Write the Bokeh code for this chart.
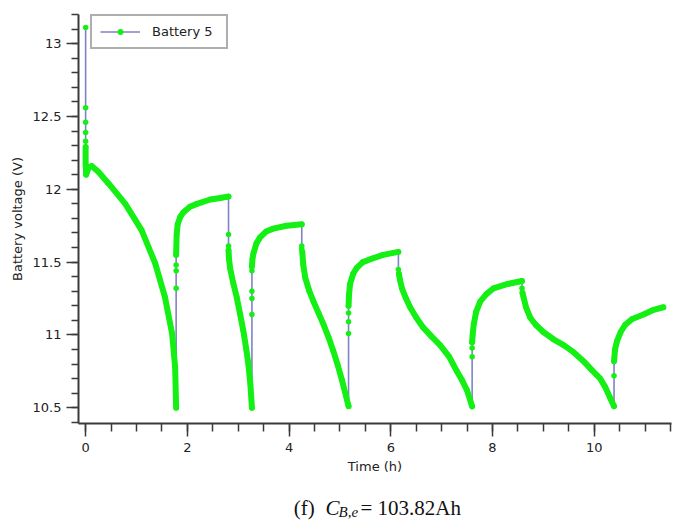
from bokeh.plotting import figure
from bokeh.layouts import column
from bokeh.models import (Range1d, SingleIntervalTicker, CustomJSTickFormatter,
                          Legend, LegendItem)
from bokeh.core.properties import value
from bokeh.embed import file_html
from bokeh.resources import INLINE

# ---------------- data (Battery 5, time in h, voltage in V) ----------------
s_t = [0.0, 0.0, 0.0, 0.0, 0.0]
s_v = [13.11, 12.56, 12.46, 12.39, 12.33]

d1_t = [0.0, 0.0, 0.01, 0.03, 0.06, 0.12, 0.25, 0.45, 0.78, 1.10, 1.37, 1.56, 1.70, 1.76, 1.78]
d1_v = [12.29, 12.18, 12.10, 12.12, 12.15, 12.16, 12.12, 12.04, 11.90, 11.72, 11.49, 11.26, 11.01, 10.78, 10.50]
j1_t = [1.78, 1.78, 1.78]
j1_v = [11.32, 11.44, 11.48]
r1_t = [1.78, 1.79, 1.81, 1.86, 1.92, 2.05, 2.19, 2.45, 2.65, 2.81]
r1_v = [11.55, 11.69, 11.76, 11.81, 11.84, 11.88, 11.90, 11.93, 11.94, 11.95]

j2_t = [2.81, 2.81]
j2_v = [11.69, 11.61]
d2_t = [2.81, 2.82, 2.84, 2.90, 2.97, 3.04, 3.10, 3.16, 3.20, 3.24, 3.27]
d2_v = [11.58, 11.52, 11.46, 11.36, 11.26, 11.14, 11.03, 10.90, 10.80, 10.66, 10.50]
j3_t = [3.27, 3.27, 3.27, 3.27]
j3_v = [11.14, 11.25, 11.30, 11.44]
r2_t = [3.27, 3.28, 3.30, 3.36, 3.43, 3.55, 3.69, 3.95, 4.25]
r2_v = [11.47, 11.52, 11.56, 11.63, 11.67, 11.71, 11.73, 11.75, 11.76]

j4_t = [4.25, 4.25]
j4_v = [11.61, 11.59]
d3_t = [4.26, 4.28, 4.32, 4.40, 4.48, 4.58, 4.68, 4.78, 4.87, 4.96, 5.04, 5.12, 5.17]
d3_v = [11.57, 11.48, 11.39, 11.30, 11.23, 11.15, 11.07, 10.98, 10.89, 10.79, 10.69, 10.58, 10.51]
j5_t = [5.17, 5.17, 5.17]
j5_v = [11.01, 11.09, 11.15]
r3_t = [5.17, 5.18, 5.20, 5.26, 5.33, 5.45, 5.60, 5.85, 6.15]
r3_v = [11.20, 11.28, 11.35, 11.42, 11.46, 11.50, 11.52, 11.55, 11.57]

j6_t = [6.15]
j6_v = [11.45]
d4_t = [6.16, 6.18, 6.22, 6.30, 6.38, 6.50, 6.64, 6.80, 6.97, 7.15, 7.30, 7.40, 7.50, 7.60]
d4_v = [11.42, 11.38, 11.32, 11.25, 11.19, 11.12, 11.05, 10.99, 10.93, 10.85, 10.75, 10.69, 10.62, 10.51]
j7_t = [7.60, 7.60]
j7_v = [10.85, 10.91]
r4_t = [7.60, 7.61, 7.63, 7.68, 7.76, 7.88, 8.02, 8.30, 8.58]
r4_v = [10.95, 11.00, 11.07, 11.16, 11.23, 11.28, 11.32, 11.35, 11.37]

j8_t = [8.58]
j8_v = [11.32]
d5_t = [8.59, 8.61, 8.66, 8.74, 8.85, 9.00, 9.20, 9.40, 9.60, 9.79, 9.95, 10.12, 10.22, 10.31, 10.39]
d5_v = [11.29, 11.26, 11.19, 11.12, 11.07, 11.02, 10.97, 10.93, 10.88, 10.82, 10.76, 10.70, 10.64, 10.57, 10.51]
j9_t = [10.39]
j9_v = [10.72]
r5_t = [10.39, 10.41, 10.45, 10.52, 10.61, 10.75, 10.97, 11.15, 11.36]
r5_v = [10.82, 10.90, 10.96, 11.02, 11.07, 11.11, 11.14, 11.17, 11.19]

series_label = "Battery 5"
x_label = "Time (h)"
y_label = "Battery voltage (V)"
caption_parts = ["(f)", "C", "B,e", "= 103.82Ah"]

# --------------- assemble ---------------
order_t = [s_t, d1_t, j1_t, r1_t, j2_t, d2_t, j3_t, r2_t, j4_t, d3_t, j5_t, r3_t,
           j6_t, d4_t, j7_t, r4_t, j8_t, d5_t, j9_t, r5_t]
order_v = [s_v, d1_v, j1_v, r1_v, j2_v, d2_v, j3_v, r2_v, j4_v, d3_v, j5_v, r3_v,
           j6_v, d4_v, j7_v, r4_v, j8_v, d5_v, j9_v, r5_v]
all_t = [x for seg in order_t for x in seg]
all_v = [y for seg in order_v for y in seg]

curve_t = [d1_t, r1_t, d2_t, r2_t, d3_t, r3_t, d4_t, r4_t, d5_t, r5_t]
curve_v = [d1_v, r1_v, d2_v, r2_v, d3_v, r3_v, d4_v, r4_v, d5_v, r5_v]

LAV = "#7f82c6"
GREEN = "#14f014"
AXC = "#3a3a3a"
W = 680
LEFT = 78
RIGHT = 9

p = figure(width=W, height=478, output_backend="svg", toolbar_location=None,
           title=None, x_range=Range1d(-0.14, 11.52), y_range=Range1d(10.392, 13.2),
           min_border_left=LEFT, min_border_right=RIGHT, min_border_top=14, min_border_bottom=55)
p.outline_line_color = None
p.xgrid.visible = False
p.ygrid.visible = False
p.background_fill_color = "white"
p.border_fill_color = "white"

lav = p.line(all_t, all_v, line_color=LAV, line_width=1.6)
p.multi_line(curve_t, curve_v, line_color=GREEN, line_width=6,
             line_cap="round", line_join="round")
pts = p.scatter(all_t, all_v, marker="circle", size=5.5, fill_color=GREEN, line_color=None)

fmt = CustomJSTickFormatter(code="return Number(tick.toFixed(2)).toString();")

xa = p.xaxis[0]
xa.ticker = SingleIntervalTicker(interval=2, num_minor_ticks=4)
xa.axis_label = x_label
ya = p.yaxis[0]
ya.ticker = SingleIntervalTicker(interval=0.5, num_minor_ticks=5)
ya.axis_label = y_label
for ax in (xa, ya):
    ax.formatter = fmt
    ax.axis_line_color = AXC
    ax.axis_line_width = 2
    ax.major_tick_line_color = AXC
    ax.minor_tick_line_color = AXC
    ax.major_tick_line_width = 1.5
    ax.minor_tick_line_width = 1.5
    ax.major_tick_in = 0
    ax.minor_tick_in = 0
    ax.major_label_text_font = "DejaVu Sans"
    ax.major_label_text_font_size = "13px"
    ax.major_label_text_color = "#222222"
    ax.axis_label_text_font = "DejaVu Sans"
    ax.axis_label_text_font_size = "13px"
    ax.axis_label_text_font_style = "normal"
    ax.axis_label_text_color = "#222222"
xa.major_tick_out = 13
xa.minor_tick_out = 8
xa.major_label_standoff = 6
xa.axis_label_standoff = 4
ya.major_tick_out = 12
ya.minor_tick_out = 7
ya.major_label_standoff = 5
ya.axis_label_standoff = 5

legend = Legend(items=[LegendItem(label=series_label, renderers=[lav, pts])],
                location=(12, 374), margin=0, padding=8, spacing=0,
                glyph_width=40, glyph_height=15, label_standoff=12, label_width=66,
                label_text_font="DejaVu Sans", label_text_font_size="13px",
                label_text_color="#222222",
                border_line_color="#5e5e5e", border_line_width=2.5,
                background_fill_color="white", background_fill_alpha=1.0)
p.add_layout(legend, "center")

# ---------------- caption strip below the chart ----------------
# (the column aligns this strip's frame with the chart frame, so its x range
#  is expressed in page pixels covering that frame)
CH = 45
cap = figure(width=W, height=CH, output_backend="svg", toolbar_location=None,
             title=None, x_range=Range1d(LEFT, W - RIGHT), y_range=Range1d(0, CH),
             x_axis_type=None, y_axis_type=None, min_border=0,
             min_border_left=LEFT, min_border_right=RIGHT)
cap.outline_line_color = None
cap.xgrid.visible = False
cap.ygrid.visible = False
cap_font = value("Liberation Serif")
base = CH - 29.3
cap.text(x=[293.3], y=[base], text=[caption_parts[0]], text_font=cap_font,
         text_font_size="21px", text_color="#111111", text_baseline="alphabetic")
cap.text(x=[325.0], y=[base], text=[caption_parts[1]], text_font=cap_font,
         text_font_size="21px", text_font_style="italic", text_color="#111111",
         text_baseline="alphabetic")
cap.text(x=[338.0], y=[base - 4.0], text=[caption_parts[2]], text_font=cap_font,
         text_font_size="15px", text_font_style="italic", text_color="#111111",
         text_baseline="alphabetic")
cap.text(x=[360.0], y=[base], text=[caption_parts[3]], text_font=cap_font,
         text_font_size="21px", text_color="#111111", text_baseline="alphabetic")

layout = column(p, cap, spacing=0)
open("out.html", "w").write(file_html(layout, INLINE))
